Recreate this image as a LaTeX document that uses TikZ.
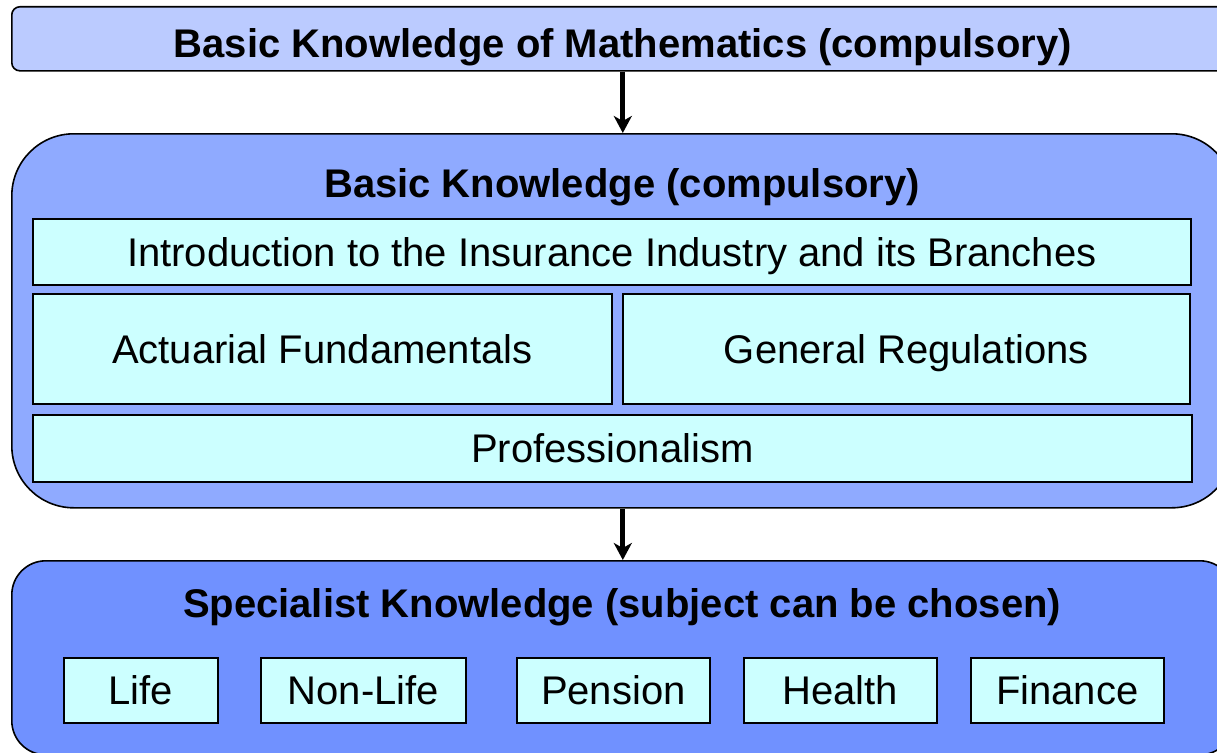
\documentclass[tikz,border=0pt]{standalone}
\usepackage{fontspec}
\setmainfont{Liberation Sans}
\usetikzlibrary{positioning,arrows.meta}
\definecolor{mathsfill}{HTML}{BBCBFF}
\definecolor{basicfill}{HTML}{8FAAFF}
\definecolor{specialfill}{HTML}{7091FF}
\definecolor{topicfill}{HTML}{CCFFFF}

\begin{document}
\begin{tikzpicture}[x=1pt,y=-1pt,
outer/.style={draw, line width=1.6pt, anchor=north west, minimum width=1222pt, inner sep=0pt},
topic/.style={draw, line width=1.6pt, fill=topicfill, anchor=north west, inner sep=0pt,
  font=\fontsize{40}{48}\selectfont, text height=29pt, text depth=0pt},
title/.style={anchor=base, font=\fontsize{40}{48}\selectfont\bfseries},
flow/.style={line width=5pt, -{Stealth[length=17pt,width=18pt,inset=5pt]}}]

\useasboundingbox (0,0) rectangle (1217,752);
\clip (0,0) rectangle (1217,752);

% outer boxes
\node[outer, fill=mathsfill, rounded corners=8pt, minimum height=64pt,
  font=\fontsize{40}{48}\selectfont\bfseries, text height=51pt, text depth=13pt] (maths) at (11,6)
  {Basic Knowledge of Mathematics (compulsory)};
\node[outer, fill=basicfill, rounded corners=62pt, minimum height=374pt] (basic) at (11,133) {};
\node[outer, fill=specialfill, rounded corners=34pt, minimum height=194pt] (special) at (11,560) {};

\node[title] (basictitle) at (622,197) {Basic Knowledge (compulsory)};
\node[title] (specialtitle) at (622,617) {Specialist Knowledge (subject can be chosen)};

% basic topics
\node[topic, minimum width=1158pt, minimum height=66pt] (intro) at (32,218)
  {Introduction to the Insurance Industry and its Branches};
\node[topic, minimum width=579pt, minimum height=110pt] (actuarial) at (32,293) {Actuarial Fundamentals};
\node[topic, minimum width=567pt, minimum height=110pt, right=9.4pt of actuarial.north east, anchor=north west] (regulations)
  {General Regulations};
\node[topic, minimum width=1159pt, minimum height=67pt] (profession) at (32,414) {Professionalism};

% specialist subjects
\node[topic, minimum width=154pt, minimum height=65pt] (life) at (63,657) {Life};
\node[topic, minimum width=205pt, minimum height=65pt] (nonlife) at (260,657) {Non-Life};
\node[topic, minimum width=193pt, minimum height=65pt] (pension) at (516,657) {Pension};
\node[topic, minimum width=193pt, minimum height=65pt, right=32.4pt of pension.north east, anchor=north west] (health) {Health};
\node[topic, minimum width=193pt, minimum height=65pt, right=32.4pt of health.north east, anchor=north west] (finance) {Finance};

\draw[flow] (maths) -- (basic);
\draw[flow] (basic) -- (special);
%
\end{tikzpicture}
\end{document}
